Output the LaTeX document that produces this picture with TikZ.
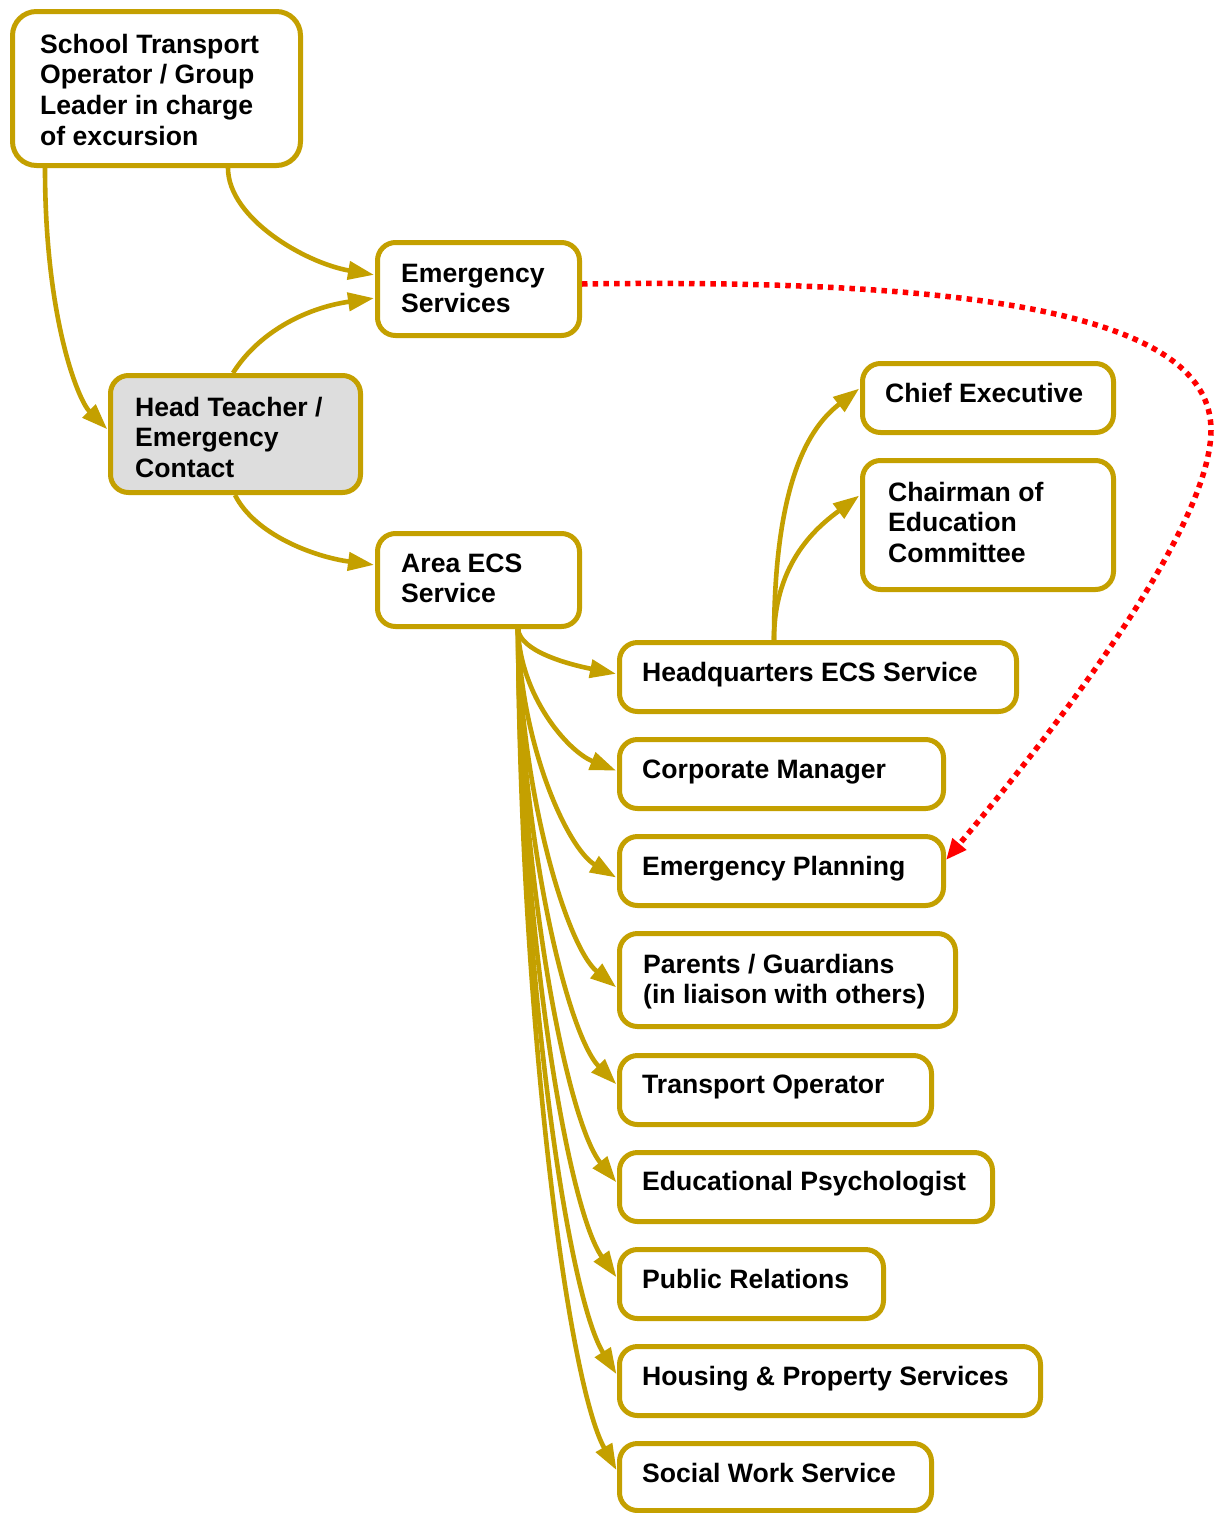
\documentclass[tikz,border=0pt]{standalone}
\usepackage{fontspec}
\setmainfont{Liberation Sans}
\usetikzlibrary{arrows.meta,fit,calc}
\definecolor{gold}{RGB}{196,160,0}
\definecolor{boxgray}{RGB}{221,221,221}
\definecolor{dotred}{RGB}{255,0,0}
\begin{document}
\begin{tikzpicture}[x=1pt,y=-1pt,
  box/.style={draw=gold, line width=5pt, rounded corners=18pt, inner sep=0pt},
  txt/.style={font=\fontsize{26.6}{30.7}\selectfont\bfseries, align=left, inner sep=0pt, anchor=north west},
  link/.style={draw=gold, line width=4.6pt, -{Triangle[length=26pt,width=18pt]}, shorten >=1pt},
  redlink/.style={draw=dotred, line width=5.5pt, dash pattern=on 5.5pt off 5.2pt, -{Triangle[length=21pt,width=17pt]}}]
\fill[white] (0,0) rectangle (1215,1513);
\useasboundingbox (0,0) rectangle (1215,1513);
% boxes
\node[box, rounded corners=24pt, fit={(12.5,11.5)(300.5,165.5)}] (st) {};
\node[box, fit={(377.5,242.5)(579.5,335.5)}] (es) {};
\node[box, fill=boxgray, fit={(110.5,375.5)(360.5,492.5)}] (ht) {};
\node[box, fit={(377.5,533.5)(579.5,626.5)}] (ae) {};
\node[box, fit={(862.5,363.5)(1113.5,432.5)}] (ce) {};
\node[box, fit={(862.5,460.5)(1113.5,589.5)}] (ch) {};
\node[box, fit={(619.5,642.5)(1016.5,711.5)}] (hq) {};
\node[box, fit={(619.5,739.5)(943.5,808.5)}] (cm) {};
\node[box, fit={(619.5,836.5)(943.5,905.5)}] (ep) {};
\node[box, fit={(619.5,933.5)(955.5,1026.5)}] (pg) {};
\node[box, fit={(619.5,1055.5)(931.5,1124.5)}] (to) {};
\node[box, fit={(619.5,1152.5)(992.5,1221.5)}] (edp) {};
\node[box, fit={(619.5,1249.5)(883.5,1318.5)}] (pr) {};
\node[box, fit={(619.5,1346.5)(1040.5,1415.5)}] (hp) {};
\node[box, fit={(619.5,1443.5)(931.5,1510.5)}] (sw) {};
% texts
\node[txt] (stT) at (40,31.5) {\strut School Transport\\Operator / Group\\Leader in charge\\of excursion};
\node[txt] (esT) at (401,260.5) {\strut Emergency\\Services};
\node[txt] (htT) at (135,394.5) {\strut Head Teacher /\\Emergency\\Contact};
\node[txt] (aeT) at (401,550.5) {\strut Area ECS\\Service};
\node[txt] (ceT) at (885,380.5) {\strut Chief Executive};
\node[txt] (chT) at (888,479.5) {\strut Chairman of\\Education\\Committee};
\node[txt] (hqT) at (642,659.5) {\strut Headquarters ECS Service};
\node[txt] (cmT) at (642,756.5) {\strut Corporate Manager};
\node[txt] (epT) at (642,853.5) {\strut Emergency Planning};
\node[txt] (pgT) at (643,951.5) {\strut Parents / Guardians\\(in liaison with others)};
\node[txt] (toT) at (642,1071.5) {\strut Transport Operator};
\node[txt] (edpT) at (642,1168.5) {\strut Educational Psychologist};
\node[txt] (prT) at (642,1266.5) {\strut Public Relations};
\node[txt] (hpT) at (642,1363.5) {\strut Housing \& Property Services};
\node[txt] (swT) at (642,1460.5) {\strut Social Work Service};
% connectors
\draw[link] ([xshift=35pt]st.south west) .. controls +(0,150) and +(-30,-30) .. ([yshift=-57pt]ht.north west);
\draw[link] ([xshift=218pt]st.south west) .. controls +(0,50) and +(-70,-12) .. ([yshift=-35pt]es.north west);
\draw[link] ([xshift=125pt]ht.north west) .. controls +(25,-40) and +(-70,10) .. ([yshift=-58pt]es.north west);
\draw[link] ([xshift=127pt]ht.south west) .. controls +(20,40) and +(-60,-8) .. ([yshift=-34pt]ae.north west);
% fan from Area ECS
\coordinate (fan) at ([xshift=143pt]ae.south west);
\draw[link] (fan) .. controls +(2,22) and +(-50,-10) .. ([yshift=-34pt]hq.north west);
\draw[link] (fan) .. controls +(2,66) and +(-50,-20) .. ([yshift=-34pt]cm.north west);
\draw[link] (fan) .. controls +(2,114) and +(-50,-30) .. ([yshift=-44pt]ep.north west);
\draw[link] (fan) .. controls +(2,163) and +(-50,-41) .. ([yshift=-57pt]pg.north west);
\draw[link] (fan) .. controls +(2,207) and +(-50,-51) .. ([yshift=-32pt]to.north west);
\draw[link] (fan) .. controls +(2,251) and +(-50,-61) .. ([yshift=-33pt]edp.north west);
\draw[link] (fan) .. controls +(2,294) and +(-50,-70) .. ([yshift=-31pt]pr.north west);
\draw[link] (fan) .. controls +(2,338) and +(-50,-80) .. ([yshift=-31pt]hp.north west);
\draw[link] (fan) .. controls +(2,381) and +(-50,-90) .. ([yshift=-30pt]sw.north west);
% from Headquarters
\coordinate (hqtop) at ([xshift=157pt]hq.north west);
\draw[link] (hqtop) .. controls +(0,-170) and +(-45,35) .. ([yshift=-27pt]ce.north west);
\draw[link] (hqtop) .. controls +(0,-80) and +(-40,30) .. ([yshift=-37pt]ch.north west);
% red dotted
\coordinate (rbend) at (1211,430);
\draw[redlink] ([yshift=5pt]es.east) .. controls (1000,278) and (1211,320) .. (rbend)
  .. controls (1211,520) and (1080,700) .. ([yshift=-26pt]ep.north east);
\end{tikzpicture}
\end{document}
